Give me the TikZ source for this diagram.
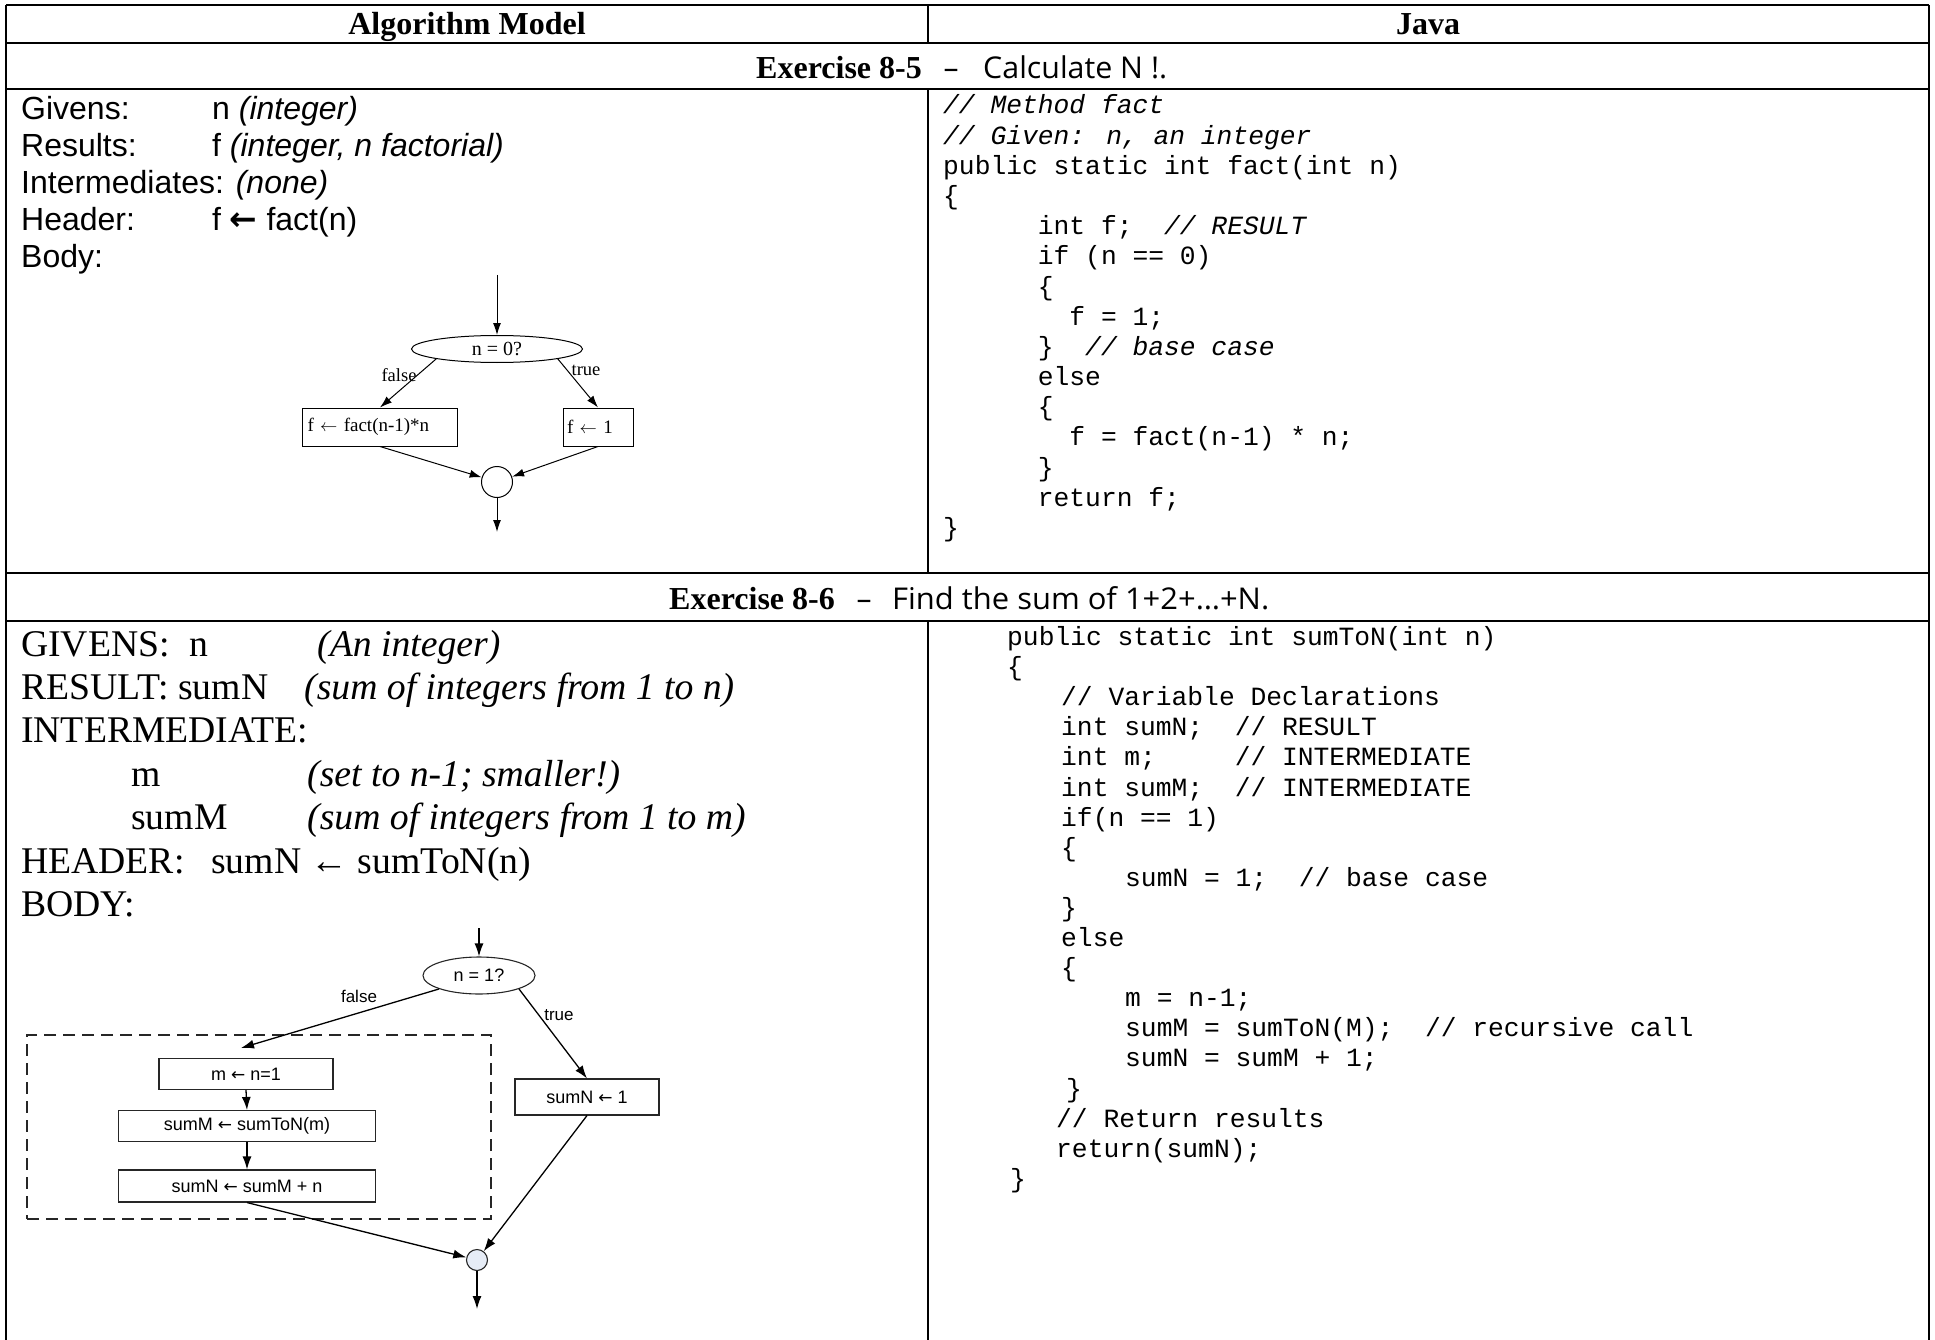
\documentclass[tikz,border=0pt]{standalone}
\usepackage{fontspec}
\usepackage{graphicx}
\setmainfont{Liberation Serif}
\newfontfamily\arialf{Liberation Sans}
\newfontfamily\courf{Liberation Mono}
\newfontfamily\comicf{Open Sans}
\newfontfamily\djv{DejaVu Sans}
\usetikzlibrary{arrows.meta,shapes.geometric}
\tikzset{
  tline/.style={line width=2pt},
  tthin/.style={line width=1.3pt},
  tx/.style={inner sep=0pt, anchor=base west},
  hdr/.style={inner sep=0pt, anchor=base, font=\fontsize{32}{32}\selectfont\bfseries},
  ttl/.style={inner sep=0pt, font=\comicf\fontsize{30}{30}\selectfont},
  gA/.style={tx, font=\arialf\fontsize{32}{37}\selectfont},
  gT/.style={tx, font=\fontsize{37.7}{43}\selectfont},
  code/.style={tx, font=\courf\fontsize{26.3}{30}\selectfont},
  codei/.style={code, font=\courf\itshape\fontsize{26.3}{30}\selectfont},
  fcA/.style={draw, line width=1pt, inner sep=0pt, font=\fontsize{19}{19}\selectfont},
  lblA/.style={inner sep=0pt, font=\fontsize{18.5}{18.5}\selectfont},
  arrA/.style={-{Latex[length=12pt,width=8pt]}, line width=1pt},
  fcB/.style={draw, draw=black!85, line width=1.1pt, inner sep=0pt, font=\arialf\fontsize{18}{18}\selectfont},
  lblB/.style={inner sep=0pt, font=\arialf\fontsize{17}{17}\selectfont},
  arrB/.style={-{Latex[length=13pt,width=9pt]}, line width=1.3pt},
}
\newcommand{\larB}{{\djv\fontsize{17}{17}\selectfont ←}}
\begin{document}
\begin{tikzpicture}[x=1pt,y=-1pt]
\useasboundingbox (0,0) rectangle (1935,1340);
% ---------- table ----------
\draw[tline] (6,5) -- (1929,5);
\draw[tline] (6,5) -- (6,1340);
\draw[tline] (1929,5) -- (1929,1340);
\draw[tline] (6,43) -- (1929,43);
\draw[tthin] (6,89) -- (1929,89);
\draw[tline] (6,573) -- (1929,573);
\draw[tthin] (6,621) -- (1929,621);
\draw[tline] (928,5) -- (928,43);
\draw[tline] (928,89) -- (928,573);
\draw[tline] (928,621) -- (928,1340);
% ---------- headers ----------
\node[hdr] (hA) at (467,35) {Algorithm Model};
\node[hdr] (hJ) at (1428,35) {Java};
\node[hdr, anchor=base east] (e5) at (922,79) {Exercise 8-5};
\node[ttl, anchor=base] (e5d) at (951,79) {–};
\node[ttl, anchor=base west] (e5t) at (983,79) {\resizebox{184pt}{\height}{Calculate N !.}};
\node[hdr, anchor=base east] (e6) at (835,609) {Exercise 8-6};
\node[ttl, anchor=base] (e6d) at (864,609) {–};
\node[ttl, anchor=base west] (e6t) at (892,609) {\resizebox{377pt}{\height}{Find the sum of 1+2+…+N.}};
% ---------- 8-5 left text ----------
\node[gA] (g1) at (21,120) {Givens:};
\node[gA] (g1v) at (212,120) {n \textit{(integer)}};
\node[gA] (g2) at (21,157) {Results:};
\node[gA] (g2v) at (212,157) {f \textit{(integer, n factorial)}};
\node[gA] (g3) at (21,194) {Intermediates: \textit{(none)}};
\node[gA] (g4) at (21,231) {Header:};
\node[gA] (g4v) at (212,231) {f {\djv\bfseries\fontsize{33}{33}\selectfont ←} fact(n)};
\node[gA] (g5) at (21,268) {Body:};
% ---------- 8-5 flowchart ----------
\coordinate (a1top) at (497,275);
\node[fcA, ellipse, minimum width=171, minimum height=27, font=\fontsize{20}{20}\selectfont] (d1) at (497,349) {n = 0?};
\node[fcA, minimum width=154, minimum height=38, text width=145, align=left, inner xsep=5] (bF) at (380,427) {f $\leftarrow$ fact(n-1)*n};
\node[fcA, minimum width=70, minimum height=38, text width=62, align=left, inner xsep=4] (bT) at (598,427) {f $\leftarrow$ 1};
\node[fcA, circle, minimum size=31] (j1) at (497,482) {};
\coordinate (a1bot) at (497,532);
\draw[arrA] (a1top) -- (d1.north);
\draw[arrA] (d1.south west) -- (bF.north);
\draw[arrA] (d1.south east) -- (bT.north);
\draw[arrA] (bF.south) -- (j1);
\draw[arrA] (bT.south) -- (j1);
\draw[arrA] (j1) -- (a1bot);
\node[lblA] (lf1) at (399,375) {false};
\node[lblA] (lt1) at (586,370) {true};
% ---------- 8-5 java ----------
\node[codei] (c0) at (943,114) {// Method fact};
\node[codei] (c1) at (943,144.2) {// Given: n, an integer};
\node[code] (c2) at (943,174.3) {public static int fact(int n)};
\node[code] (c3) at (943,204.5) {\{};
\node[code] (c4) at ({943+6*15.78},234.7) {int f;};
\node[codei] (c4c) at ({943+14*15.78},234.7) {// RESULT};
\node[code] (c5) at ({943+6*15.78},264.9) {if (n == 0)};
\node[code] (c6) at ({943+6*15.78},295.0) {\{};
\node[code] (c7) at ({943+8*15.78},325.2) {f = 1;};
\node[code] (c8) at ({943+6*15.78},355.4) {\}};
\node[codei] (c8c) at ({943+9*15.78},355.4) {// base case};
\node[code] (c9) at ({943+6*15.78},385.5) {else};
\node[code] (c10) at ({943+6*15.78},415.7) {\{};
\node[code] (c11) at ({943+8*15.78},445.9) {f = fact(n-1) * n;};
\node[code] (c12) at ({943+6*15.78},476.1) {\}};
\node[code] (c13) at ({943+6*15.78},506.2) {return f;};
\node[code] (c14) at (943,536.4) {\}};
% ---------- 8-6 left text ----------
\node[gT] (G1) at (21,656) {GIVENS:};
\node[gT] (G1n) at (189,656) {n};
\node[gT] (G1v) at (317,656) {\textit{(An integer)}};
\node[gT] (G2) at (21,699.4) {RESULT: sumN};
\node[gT] (G2v) at (304,699.4) {\textit{(sum of integers from 1 to n)}};
\node[gT] (G3) at (21,742.8) {INTERMEDIATE:};
\node[gT] (G4) at (131,786.2) {m};
\node[gT] (G4v) at (307,786.2) {\textit{(set to n-1; smaller!)}};
\node[gT] (G5) at (131,829.6) {sumM};
\node[gT] (G5v) at (307,829.6) {\textit{(sum of integers from 1 to m)}};
\node[gT] (G6) at (21,873) {HEADER:};
\node[gT] (G6v) at (211,873) {sumN ← sumToN(n)};
\node[gT] (G7) at (21,916.4) {BODY:};
% ---------- 8-6 flowchart ----------
\coordinate (a2top) at (479,928);
\node[fcB, ellipse, minimum width=112, minimum height=37] (d2) at (479,975.5) {n = 1?};
\node[draw=black!85, line width=1.5pt, dash pattern=on 12pt off 7pt, minimum width=464, minimum height=184, inner sep=0pt] (grp) at (259,1127) {};
\coordinate (fend) at (241,1048);
\node[fcB, minimum width=174, minimum height=31] (b1) at (246,1074) {m \larB{} n=1};
\node[fcB, minimum width=257, minimum height=31] (b2) at (247,1126) {sumM \larB{} sumToN(m)};
\node[fcB, minimum width=257, minimum height=32] (b3) at (247,1186) {sumN \larB{} sumM + n};
\node[fcB, minimum width=144, minimum height=36] (sN1) at (587,1097) {sumN \larB{} 1};
\node[fcB, circle, minimum size=21, fill={rgb,255:red,230;green,236;blue,246}] (j2) at (477,1260) {};
\coordinate (a2bot) at (477,1309);
\draw[arrB] (a2top) -- (d2.north);
\draw[arrB] (d2.south west) -- (fend);
\draw[arrB] (d2.south east) -- (sN1.north);
\draw[arrB] (b1.south) -- (b2.north);
\draw[arrB] (b2.south) -- (b3.north);
\draw[arrB] (b3.south) -- (j2);
\draw[arrB] (sN1.south) -- (j2);
\draw[arrB] (j2) -- (a2bot);
\node[lblB] (lf2) at (359,996) {false};
\node[lblB] (lt2) at (559,1015) {true};
% ---------- 8-6 java ----------
\node[code] (k0) at (1007,645.5) {public static int sumToN(int n)};
\node[code] (k1) at (1007,675.6) {\{};
\node[code] (k2) at (1061,705.7) {// Variable Declarations};
\node[code] (k3) at (1061,735.8) {int sumN;};
\node[code] (k3c) at ({1061+11*15.78},735.8) {// RESULT};
\node[code] (k4) at (1061,765.9) {int m;};
\node[code] (k4c) at ({1061+11*15.78},765.9) {// INTERMEDIATE};
\node[code] (k5) at (1061,796.0) {int sumM;};
\node[code] (k5c) at ({1061+11*15.78},796.0) {// INTERMEDIATE};
\node[code] (k6) at (1061,826.1) {if(n == 1)};
\node[code] (k7) at (1061,856.2) {\{};
\node[code] (k8) at (1125,886.3) {sumN = 1;};
\node[code] (k8c) at ({1125+11*15.78},886.3) {// base case};
\node[code] (k9) at (1061,916.4) {\}};
\node[code] (k10) at (1061,946.5) {else};
\node[code] (k11) at (1061,976.6) {\{};
\node[code] (k12) at (1125,1006.7) {m = n-1;};
\node[code] (k13) at (1125,1036.8) {sumM = sumToN(M);};
\node[code] (k13c) at ({1125+19*15.78},1036.8) {// recursive call};
\node[code] (k14) at (1125,1066.9) {sumN = sumM + 1;};
\node[code] (k15) at (1066,1097.0) {\}};
\node[code] (k16) at (1056,1127.1) {// Return results};
\node[code] (k17) at (1056,1157.2) {return(sumN);};
\node[code] (k18) at (1010,1187.3) {\}};
\end{tikzpicture}
\end{document}
